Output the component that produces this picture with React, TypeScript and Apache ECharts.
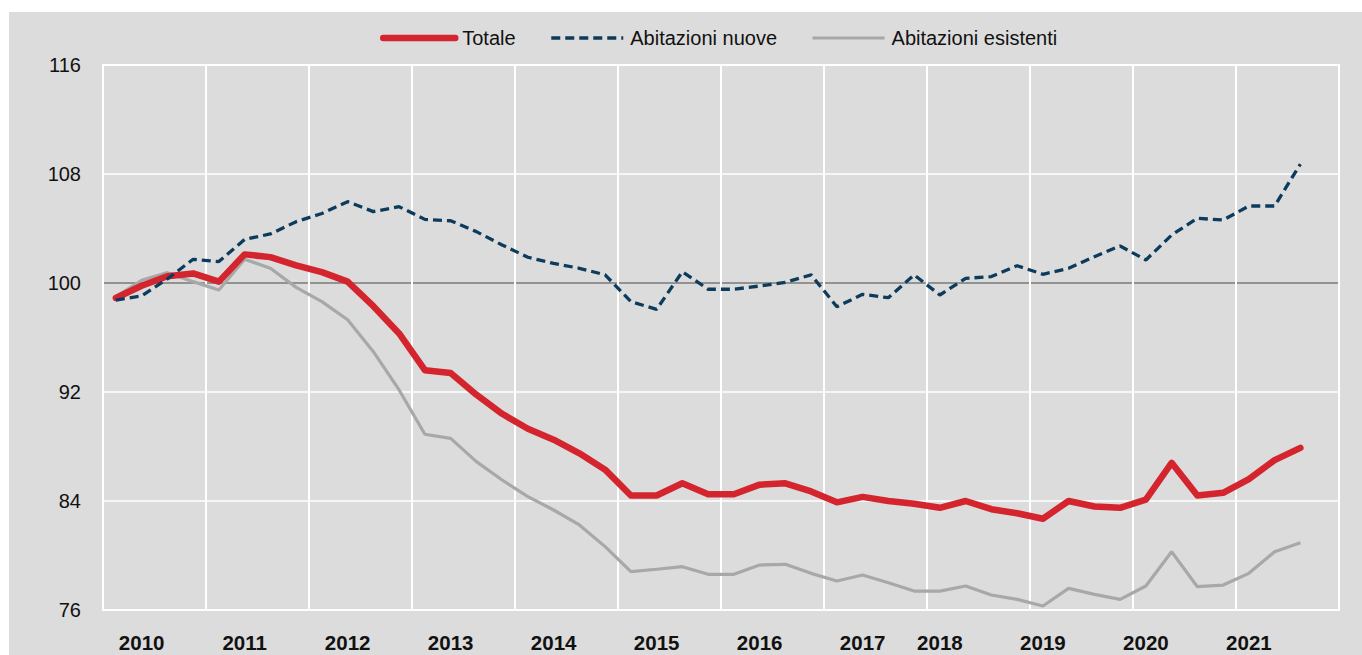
import React, { useEffect, useRef } from "react";
import * as echarts from "echarts";

const quarters = [
  "2010 T1", "2010 T2", "2010 T3", "2010 T4",
  "2011 T1", "2011 T2", "2011 T3", "2011 T4",
  "2012 T1", "2012 T2", "2012 T3", "2012 T4",
  "2013 T1", "2013 T2", "2013 T3", "2013 T4",
  "2014 T1", "2014 T2", "2014 T3", "2014 T4",
  "2015 T1", "2015 T2", "2015 T3", "2015 T4",
  "2016 T1", "2016 T2", "2016 T3", "2016 T4",
  "2017 T1", "2017 T2", "2017 T3", "2017 T4",
  "2018 T1", "2018 T2", "2018 T3", "2018 T4",
  "2019 T1", "2019 T2", "2019 T3", "2019 T4",
  "2020 T1", "2020 T2", "2020 T3", "2020 T4",
  "2021 T1", "2021 T2", "2021 T3", "2021 T4",
];

const totale = [
  98.9, 99.8, 100.5, 100.7, 100.1, 102.1, 101.9, 101.3, 100.8, 100.1, 98.3, 96.3,
  93.6, 93.4, 91.8, 90.4, 89.3, 88.5, 87.5, 86.3, 84.4, 84.4, 85.3, 84.5,
  84.5, 85.2, 85.3, 84.7, 83.9, 84.3, 84.0, 83.8, 83.5, 84.0, 83.4, 83.1,
  82.7, 84.0, 83.6, 83.5, 84.1, 86.8, 84.4, 84.6, 85.6, 87.0, 87.9,
];

const nuove = [
  98.75, 99.05, 100.3, 101.74, 101.57, 103.2, 103.6, 104.5, 105.1, 105.97, 105.24, 105.6,
  104.67, 104.57, 103.77, 102.79, 101.89, 101.44, 101.08, 100.6, 98.63, 98.07, 100.83, 99.54,
  99.54, 99.78, 100.05, 100.6, 98.26, 99.17, 98.92, 100.6, 99.12, 100.34, 100.47, 101.27,
  100.64, 101.08, 101.93, 102.72, 101.69, 103.52, 104.75, 104.62, 105.65, 105.65, 108.73,
];

const esistenti = [
  99.0, 100.2, 100.76, 100.1, 99.49, 101.74, 101.08, 99.68, 98.63, 97.3, 94.96, 92.15,
  88.9, 88.6, 86.89, 85.54, 84.32, 83.34, 82.24, 80.65, 78.81, 78.99, 79.18, 78.62,
  78.62, 79.3, 79.35, 78.69, 78.13, 78.57, 78.0, 77.39, 77.39, 77.76, 77.1, 76.78,
  76.29, 77.59, 77.15, 76.78, 77.76, 80.28, 77.71, 77.83, 78.69, 80.28, 80.94,
];

const yearLabels = ["2010", "2011", "2012", "2013", "2014", "2015", "2016", "2017", "2018", "2019", "2020", "2021"];
const yearLabelIndex = [1, 5, 9, 13, 17, 21, 25, 29, 32, 36, 40, 44];

const FONT = "'Liberation Sans Narrow', 'Arial Narrow', 'Liberation Sans', Arial, sans-serif";

const RED = "#d4252f";
const NAVY = "#0c3b5c";
const GREY = "#a8a8a8";

export default function App() {
  const ref = useRef<HTMLDivElement>(null);

  useEffect(() => {
    if (!ref.current) return;
    const chart = echarts.init(ref.current, null, { renderer: "svg" });
    const labelMap: Record<number, string> = {};
    yearLabelIndex.forEach((idx, k) => {
      labelMap[idx] = yearLabels[k];
    });

    chart.setOption({
      animation: false,
      backgroundColor: "#dcdcdc",
      textStyle: { fontFamily: FONT },
      legend: {
        top: 11,
        left: 366,
        itemWidth: 72,
        itemHeight: 20,
        itemGap: 34,
        itemStyle: { opacity: 0 },
        textStyle: { fontFamily: FONT, fontSize: 20, color: "#111", padding: [0, 0, 0, 2] },
        data: [
          { name: "Totale", lineStyle: { width: 6.5, color: RED, cap: "round" } },
          { name: "Abitazioni nuove", lineStyle: { width: 3.3, color: NAVY, type: [9, 5] } },
          { name: "Abitazioni esistenti", lineStyle: { width: 3, color: GREY } },
        ],
      },
      grid: {
        left: 94,
        top: 53,
        width: 1236,
        height: 545,
        show: true,
        borderColor: "#ffffff",
        borderWidth: 2,
        backgroundColor: "transparent",
      },
      xAxis: {
        type: "category",
        data: quarters,
        boundaryGap: true,
        axisLine: { show: false },
        axisTick: { show: false },
        axisLabel: {
          interval: 0,
          margin: 22,
          fontFamily: FONT,
          fontSize: 20.5,
          fontWeight: "bold",
          color: "#111",
          formatter: (_v: string, i: number) => labelMap[i] ?? "",
        },
        splitLine: {
          show: true,
          interval: (i: number) => i % 4 === 0,
          lineStyle: { color: "#ffffff", width: 2 },
        },
      },
      yAxis: {
        type: "value",
        min: 76,
        max: 116,
        interval: 8,
        axisLine: { show: false },
        axisTick: { show: false },
        axisLabel: { margin: 22, fontFamily: FONT, fontSize: 20, color: "#111" },
        splitLine: {
          show: true,
          lineStyle: {
            color: ["#ffffff", "#ffffff", "#ffffff", "#7a7a7a", "#ffffff", "#ffffff"],
            width: 1.5,
          },
        },
      },
      series: [
        {
          name: "Totale",
          type: "line",
          data: totale,
          symbol: "none",
          z: 3,
          lineStyle: { color: RED, width: 6.5, cap: "round", join: "round" },
          itemStyle: { color: RED },
        },
        {
          name: "Abitazioni nuove",
          type: "line",
          data: nuove,
          symbol: "none",
          z: 4,
          lineStyle: { color: NAVY, width: 3.3, type: [9, 5] },
          itemStyle: { color: NAVY },
        },
        {
          name: "Abitazioni esistenti",
          type: "line",
          data: esistenti,
          symbol: "none",
          z: 2,
          lineStyle: { color: GREY, width: 3.2 },
          itemStyle: { color: GREY },
        },
      ],
    });
    return () => chart.dispose();
  }, []);

  return (
    <div style={{ position: "absolute", left: 0, top: 0, width: 1362, height: 655, background: "#fff", overflow: "hidden" }}>
      <div ref={ref} style={{ position: "absolute", left: 9, top: 12, width: 1353, height: 643 }} />
    </div>
  );
}
